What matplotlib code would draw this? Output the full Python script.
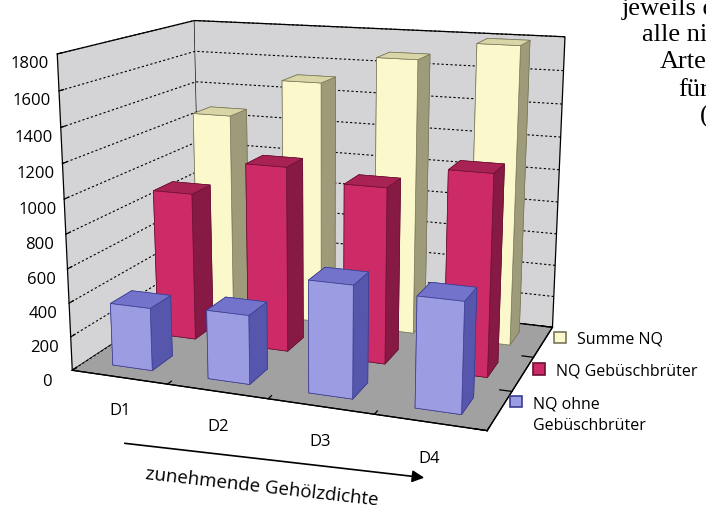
import matplotlib.pyplot as plt
import numpy as np
from matplotlib.patches import Patch

plt.rcParams["font.family"] = ["Open Sans", "DejaVu Sans"]

# %% data: Nahrungsquotient je Dichtestufe
categories = ["D1", "D2", "D3", "D4"]
series_names = ["NQ ohne\nGebüschbrüter", "NQ Gebüschbrüter", "Summe NQ"]
nq_ohne = [370, 400, 640, 620]
nq_gebuesch = [900, 1110, 1040, 1170]
nq_summe = [1270, 1510, 1680, 1790]
z_ticks = list(range(0, 1801, 200))

values = [nq_ohne, nq_gebuesch, nq_summe]
# face colours per series: front, top, side
face_cols = [
    ("#9c9ce2", "#7373cc", "#5656ad"),
    ("#cc2b68", "#a82254", "#861a44"),
    ("#fbf9cb", "#d8d5a6", "#9d9b7a"),
]
edge_cols = ["#3c3c90", "#6a1234", "#77765a"]

fig = plt.figure(figsize=(7.06, 5.06), dpi=100)
ax = fig.add_axes([-0.053, 0.047, 1.0, 1.08], projection="3d")
ax.set_proj_type("persp", focal_length=0.46)
ax.view_init(elev=14, azim=-69.5)
ax.set_box_aspect((1.43, 1.0, 1.07), zoom=1.06)

# %% bars, one row per series (front to back)
bw, bd = 0.42, 0.45
for s, vals in enumerate(values):
    front, top, side = face_cols[s]
    for i, v in enumerate(vals):
        # face order of bar3d: -Z, +Z, -Y, +Y, -X, +X
        cols = [top, top, front, front, side, side]
        ax.bar3d(i + 0.5 - bw / 2, s + 0.5 - bd / 2, 0, bw, bd, v,
                 color=cols, shade=False, edgecolor=edge_cols[s], linewidth=0.5)

ax.set_xlim(0, 4)
ax.set_ylim(0, 3)
ax.set_zlim(0, 1800)

# walls and floor
wall = (0.83, 0.83, 0.84, 1.0)
ax.xaxis.set_pane_color(wall)
ax.yaxis.set_pane_color(wall)
ax.zaxis.set_pane_color((0.63, 0.63, 0.63, 1.0))
for a in (ax.xaxis, ax.yaxis, ax.zaxis):
    a.pane.set_edgecolor("black")
    a.pane.set_linewidth(0.9)
    a.line.set_color("black")
    a.line.set_linewidth(0.9)

# only the value gridlines, dotted
ax.xaxis._axinfo["grid"].update(linewidth=0)
ax.yaxis._axinfo["grid"].update(linewidth=0)
ax.zaxis._axinfo["grid"].update(color="black", linewidth=0.8, linestyle=(0, (2, 2)))

# value axis on the front left edge
ax.zaxis.set_ticks_position("lower")
ax.zaxis.set_label_position("lower")

ax.set_xticks(range(5))
ax.set_xticklabels([""] * 5)
ax.set_yticks(range(4))
ax.set_yticklabels([""] * 4)
ax.set_zticks(z_ticks)
ax.set_zticklabels([str(t) for t in z_ticks])
ax.tick_params(axis="z", labelsize=12, pad=2)
for a in (ax.xaxis, ax.yaxis, ax.zaxis):
    a._axinfo["tick"].update(inward_factor=0.0, outward_factor=0.35)
    a._axinfo["tick"]["linewidth"] = {True: 0.9, False: 0.5}

# category names straight below the front edge
for i, c in enumerate(categories):
    ax.text(i + 0.5, 0, -200, c, ha="center", va="center", fontsize=12)

# legend entries along the depth axis
leg_pos = [(0.722, 0.217), (0.755, 0.281), (0.785, 0.344)]
for s in range(3):
    h = Patch(facecolor=face_cols[s][0], edgecolor=edge_cols[s], linewidth=1.2)
    lg = fig.legend(handles=[h], labels=[series_names[s].split("\n")[0]], loc="upper left",
                    bbox_to_anchor=leg_pos[s], frameon=False, fontsize=11.5,
                    handlelength=0.75, handleheight=0.75, handletextpad=0.7,
                    borderaxespad=0, borderpad=0)
fig.text(533 / 706, 1 - 426 / 506, series_names[0].split("\n")[1], ha="left", va="center",
         fontsize=11.5)

# direction arrow below the categories
fig.add_artist(plt.Annotation("", xy=(427 / 706, 1 - 479 / 506), xytext=(122 / 706, 1 - 444 / 506),
                              xycoords="figure fraction",
                              arrowprops=dict(arrowstyle="-|>", color="black", lw=1.2,
                                              mutation_scale=18)))
fig.text(262 / 706, 1 - 487 / 506, "zunehmende Gehölzdichte", ha="center", va="center",
         rotation=-6.5, fontsize=13.5)

# running text of the page on the right
page_lines = ["jeweils d", "alle ni", "Arte", "für", "("]
page_x = [622, 642, 660, 678, 700]
page_base = [15, 41, 68, 96, 123]
for tx, px, py in zip(page_lines, page_x, page_base):
    fig.text(px / 706, 1 - py / 506, tx, ha="left", va="baseline",
             fontsize=19, family="Liberation Serif")

fig.savefig("out.png", dpi=100)
